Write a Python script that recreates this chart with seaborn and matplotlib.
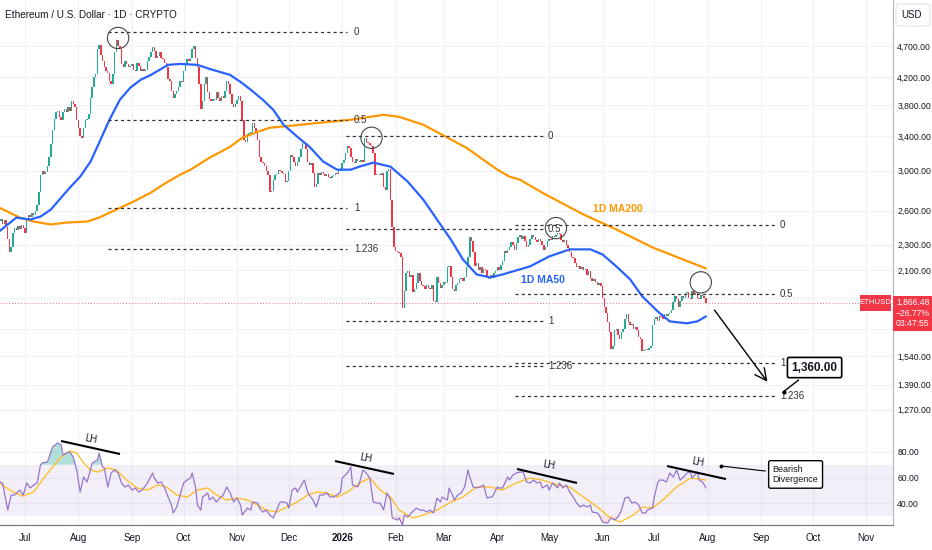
import numpy as np
import pandas as pd
import matplotlib
matplotlib.use("Agg")
import matplotlib.pyplot as plt
import matplotlib.ticker as mticker
from matplotlib.patches import Rectangle, FancyBboxPatch
import seaborn as sns

# ---------------- data ----------------
start_date = "2025-06-16"
open_first = 2480
close_2025_06 = [2500, 2520, 2480, 2510, 2450, 2350, 2240, 2280, 2400, 2445, 2420, 2460, 2430, 2470, 2440]
close_2025_07 = [2400, 2520, 2560, 2540, 2580, 2560, 2600, 2650, 2780, 2950, 3000, 2960, 2990, 3050, 3150, 3300,
                 3480, 3620, 3700, 3720, 3640, 3600, 3700, 3740, 3700, 3780, 3720, 3850, 3820, 3780, 3600]
close_2025_08 = [3500, 3400, 3380, 3500, 3600, 3620, 3680, 3900, 4050, 4200, 4250, 4650, 4720, 4550, 4450, 4350,
                 4300, 4260, 4150, 4100, 4250, 4600, 4800, 4700, 4650, 4400, 4350, 4450, 4400, 4350, 4380]
close_2025_09 = [4400, 4310, 4300, 4420, 4380, 4290, 4320, 4300, 4310, 4450, 4520, 4600, 4680, 4620, 4500, 4530,
                 4600, 4500, 4480, 4420, 4350, 4180, 4150, 4000, 3900, 3950, 4000, 4050, 4150, 4130]
close_2025_10 = [4300, 4400, 4480, 4450, 4500, 4650, 4700, 4500, 4350, 4100, 3750, 3850, 4100, 4200, 3980, 3880,
                 3850, 3880, 3870, 3980, 3900, 3850, 3930, 3900, 4000, 4150, 4100, 3950, 3820, 3780, 3820]
close_2025_11 = [3870, 3920, 3850, 3600, 3350, 3330, 3420, 3440, 3450, 3560, 3500, 3450, 3350, 3150, 3100, 3080,
                 3050, 3000, 2950, 2780, 2790, 2900, 2950, 2960, 3010, 3000, 2980, 2960, 2880, 2890]
close_2025_12 = [3000, 3180, 3150, 3100, 3050, 3100, 3150, 3250, 3320, 3300, 3250, 3100, 3060, 3080, 2980, 2830,
                 2860, 2980, 2950, 2990, 2960, 2940, 2960, 2930, 2920, 2940, 2950, 2980, 2970, 3010, 3000]
close_2026_01 = [3080, 3120, 3200, 3280, 3260, 3150, 3100, 3080, 3130, 3110, 3100, 3120, 3100, 3380, 3330, 3320,
                 3290, 3280, 3200, 2950, 2970, 2960, 2950, 2980, 2830, 2800, 3000, 3020, 2700, 2450, 2280]
close_2026_02 = [2250, 2240, 2230, 2200, 1830, 1950, 2080, 2090, 2050, 2060, 1940, 1960, 2000, 2080, 2020, 1990,
                 1980, 1960, 1990, 1970, 1960, 1990, 1880, 1870, 2050, 2000, 1970, 1990]
close_2026_03 = [2010, 2000, 2120, 2130, 2050, 1960, 1950, 1990, 2000, 2030, 2040, 2020, 2050, 2120, 2200, 2360,
                 2330, 2240, 2130, 2150, 2100, 2120, 2080, 2110, 2100, 2050, 2030, 2060, 2040, 2080, 2090]
close_2026_04 = [2120, 2100, 2140, 2170, 2250, 2230, 2260, 2280, 2320, 2300, 2260, 2310, 2360, 2380, 2350, 2370,
                 2330, 2280, 2300, 2350, 2380, 2360, 2340, 2320, 2350, 2330, 2300, 2260, 2280, 2330]
close_2026_05 = [2350, 2340, 2370, 2360, 2380, 2400, 2390, 2340, 2320, 2340, 2300, 2270, 2240, 2200, 2190, 2150,
                 2120, 2130, 2110, 2120, 2100, 2110, 2060, 2090, 2040, 2020, 2030, 2010, 1990, 2000, 1980]
close_2026_06 = [1900, 1840, 1800, 1740, 1680, 1580, 1600, 1690, 1700, 1660, 1640, 1680, 1700, 1760, 1790, 1740,
                 1720, 1730, 1700, 1710, 1690, 1650, 1640, 1570, 1575, 1580, 1575, 1585, 1600, 1720]
close_2026_07 = [1760, 1770, 1750, 1780, 1770, 1760, 1790, 1780, 1790, 1800, 1820, 1870, 1910, 1890, 1840, 1880,
                 1910, 1900, 1930, 1940, 1900, 1890, 1950, 1920, 1930, 1900, 1890, 1920, 1910, 1900, 1866.48]

# moving averages (day offset from start_date, price)
ma50_days = [0, 10, 18, 24, 30, 35, 41, 47, 53, 58, 64, 70, 76, 82, 88, 93, 98, 105, 115, 122, 134, 140, 146, 153,
             159, 165, 173, 180, 188, 196, 204, 209, 217, 227, 237, 246, 254, 262, 269, 277, 285, 292, 302, 308, 319,
             331, 343, 350, 358, 366, 373, 382, 389, 399, 405, 410]
ma50_vals = [2412, 2535, 2517, 2544, 2609, 2705, 2823, 2937, 3100, 3318, 3604, 3872, 4043, 4160, 4235, 4312, 4391,
             4406, 4391, 4328, 4235, 4130, 4014, 3872, 3736, 3540, 3390, 3271, 3100, 3012, 3012, 3045, 3089, 3045,
             2885, 2705, 2517, 2343, 2181, 2066, 2044, 2066, 2104, 2127, 2204, 2261, 2261, 2220, 2127, 2030, 1910,
             1809, 1745, 1733, 1745, 1777]
ma200_days = [0, 12, 20, 30, 39, 51, 58, 68, 78, 88, 97, 105, 111, 122, 134, 141, 150, 157, 169, 180, 192, 204, 223,
              232, 246, 257, 271, 289, 296, 302, 315, 339, 358, 379, 410]
ma200_vals = [2628, 2535, 2499, 2473, 2490, 2499, 2535, 2609, 2686, 2773, 2875, 2958, 3012, 3143, 3271, 3378, 3452,
              3502, 3527, 3552, 3578, 3604, 3669, 3643, 3540, 3415, 3259, 3012, 2937, 2906, 2773, 2563, 2429, 2277,
              2111]

# RSI(14) and its moving average
rsi_days = [0, 2, 5, 7, 9, 12, 14, 16, 18, 20, 22, 24, 25, 28, 30, 31, 34, 36, 37, 39, 41, 43, 45, 47, 49, 51, 53,
            54, 57, 58, 60, 61, 63, 65, 67, 69, 71, 73, 75, 77, 79, 81, 83, 86, 89, 90, 92, 94, 96, 98, 100, 101,
            103, 105, 107, 109, 111, 112, 114, 115, 117, 118, 121, 122, 124, 126, 128, 130, 132, 134, 136, 138, 140,
            141, 144, 146, 147, 150, 151, 153, 155, 157, 159, 161, 163, 165, 167, 168, 170, 172, 173, 176, 177, 179,
            180, 182, 184, 186, 188, 190, 192, 194, 196, 198, 199, 202, 204, 205, 208, 209, 211, 213, 215, 217, 219,
            221, 223, 225, 227, 228, 231, 232, 234, 235, 237, 239, 242, 244, 246, 248, 250, 252, 254, 256, 257, 260,
            261, 263, 264, 266, 268, 270, 272, 273, 275, 277, 279, 281, 283, 285, 286, 289, 290, 292, 295, 296, 298,
            300, 302, 304, 306, 308, 310, 312, 314, 315, 318, 319, 321, 324, 325, 327, 329, 331, 333, 335, 337, 339,
            341, 343, 344, 347, 348, 350, 353, 354, 355, 357, 359, 361, 363, 365, 367, 369, 371, 373, 375, 376, 379,
            380, 382, 383, 385, 387, 389, 391, 393, 395, 397, 399, 401, 402, 405, 406, 408, 410]
rsi_vals = [56.5, 55.7, 34.5, 46.3, 46.3, 50.2, 46.3, 55.7, 51.8, 54.1, 55.7, 69.8, 71.4, 72.2, 80.0, 83.9, 87.1,
            85.5, 77.6, 79.2, 80.0, 76.1, 65.9, 48.6, 60.4, 56.5, 65.9, 71.4, 73.7, 79.2, 68.2, 67.5, 52.6, 63.5,
            65.9, 63.5, 55.7, 52.6, 54.1, 50.2, 51.8, 48.6, 50.2, 55.7, 63.5, 59.6, 55.7, 56.5, 51.8, 44.7, 38.4,
            32.2, 36.9, 46.3, 55.7, 58.0, 59.6, 63.5, 51.8, 38.4, 34.5, 44.7, 47.9, 42.4, 44.7, 40.8, 43.9, 46.3,
            52.6, 47.9, 40.8, 43.9, 38.4, 30.6, 36.1, 34.5, 40.8, 40.0, 36.1, 33.0, 34.5, 30.6, 28.3, 34.5, 40.8,
            40.8, 40.0, 36.1, 50.2, 51.8, 48.6, 55.7, 58.0, 48.6, 46.3, 42.4, 36.9, 46.3, 46.3, 47.9, 44.7, 44.7,
            46.3, 48.6, 59.6, 63.5, 68.2, 54.1, 52.6, 55.7, 65.9, 63.5, 59.6, 40.8, 40.0, 40.0, 34.5, 47.9, 42.4,
            28.3, 26.7, 28.3, 22.8, 30.6, 29.0, 32.2, 36.1, 34.5, 34.5, 33.0, 34.5, 32.2, 43.9, 40.8, 44.7, 42.4,
            51.8, 46.3, 42.4, 46.3, 47.9, 52.6, 65.9, 60.4, 52.6, 51.8, 52.6, 54.1, 43.9, 44.7, 44.7, 52.6, 51.8,
            51.8, 60.4, 58.0, 62.0, 63.5, 64.3, 64.3, 56.5, 55.7, 58.0, 55.7, 56.5, 51.8, 54.1, 50.2, 55.7, 51.8,
            55.7, 51.8, 54.1, 48.6, 44.7, 40.0, 36.9, 38.4, 36.9, 38.4, 33.0, 32.2, 30.6, 25.1, 24.3, 26.7, 28.3,
            26.7, 29.0, 34.5, 43.9, 44.7, 40.0, 40.8, 38.4, 32.2, 32.2, 34.5, 36.1, 44.7, 55.7, 58.0, 58.0, 56.5,
            63.5, 60.4, 65.9, 58.0, 60.4, 63.5, 64.3, 59.6, 64.3, 58.0, 56.5, 51.8]
rsi_ma_days = [0, 8, 14, 20, 25, 31, 36, 41, 45, 49, 53, 57, 63, 68, 74, 80, 86, 92, 97, 103, 109, 115, 121, 126,
               132, 138, 144, 150, 155, 161, 167, 173, 179, 184, 190, 196, 202, 209, 215, 221, 227, 232, 240, 246,
               254, 262, 269, 277, 285, 292, 300, 308, 315, 324, 331, 339, 347, 354, 360, 368, 373, 379, 385, 393,
               401, 410]
rsi_ma_vals = [55.7, 48.6, 45.5, 48.6, 58.0, 68.2, 76.1, 80.8, 79.2, 71.4, 65.9, 64.3, 67.5, 65.9, 58.0, 51.8, 50.2,
               54.1, 52.6, 46.3, 44.7, 50.2, 51.8, 46.3, 42.4, 43.9, 42.4, 38.4, 34.5, 33.0, 36.9, 40.8, 46.3, 48.6,
               47.9, 44.7, 48.6, 55.7, 59.6, 50.2, 44.7, 34.5, 28.3, 30.6, 34.5, 40.8, 44.7, 52.6, 52.6, 50.2, 55.7,
               59.6, 58.0, 54.1, 52.6, 44.7, 36.9, 29.0, 25.1, 30.6, 36.9, 36.1, 42.4, 52.6, 59.6, 58.0]

# Fibonacci sets: levels, prices, start day, end day
fib_levels = ["0", "0.5", "1", "1.236"]
fib1_prices = [4942, 3604, 2628, 2261]
fib2_prices = [3400, 2433, 1745, 1487]
fib3_prices = [2464, 1926, 1503, 1335]
fib_spans = [(63, 202), (201, 317), (299, 451)]

price_ticks = [4700, 4200, 3800, 3400, 3000, 2600, 2300, 2100, 1900, 1700, 1540, 1390, 1270]
hidden_ticks = [1900, 1700]          # covered by the last-price tag in the reference
rsi_ticks = [80, 60, 40]
month_labels = ["Jul", "Aug", "Sep", "Oct", "Nov", "Dec", "2026", "Feb", "Mar", "Apr", "May", "Jun",
                "Jul", "Aug", "Sep", "Oct", "Nov"]
last_price = 1866.48

# ---------------- build frame ----------------
closes = (close_2025_06 + close_2025_07 + close_2025_08 + close_2025_09 + close_2025_10 + close_2025_11 +
          close_2025_12 + close_2026_01 + close_2026_02 + close_2026_03 + close_2026_04 + close_2026_05 +
          close_2026_06 + close_2026_07)
dates = pd.date_range(start_date, periods=len(closes), freq="D")
t0 = pd.Timestamp(start_date)
df = pd.DataFrame({"date": dates, "close": closes})
df["day"] = (df["date"] - t0).dt.days
df["open"] = df["close"].shift(1).fillna(open_first)
df["up"] = df["close"] >= df["open"]
month_days = [(d - t0).days for d in pd.date_range("2025-07-01", "2026-11-01", freq="MS")]

# ---------------- style ----------------
sns.set_theme(style="white")
plt.rcParams["font.family"] = ["Liberation Sans", "DejaVu Sans"]
TXT = "#131722"
GRID = "#eef1f7"
GREEN = "#22ab94"
RED = "#f23645"

W, H = 932, 550
fig = plt.figure(figsize=(W / 100, H / 100), dpi=100)
fig.patch.set_facecolor("white")


def fx(px):
    return px / W


def fy(py):
    return 1 - py / H


ax = fig.add_axes([0, fy(435), fx(893), 435 / H])
rax = fig.add_axes([0, fy(525), fx(893), 90 / H])
XMIN, XMAX = 0.5, 518.5

# ---------------- main pane ----------------
ax.set_yscale("log")
cols = np.where(df["up"], GREEN, RED)
ax.bar(df["day"], df["close"] - df["open"], bottom=df["open"], width=0.85, color=cols, linewidth=0, zorder=3)

sns.lineplot(x=ma200_days, y=ma200_vals, ax=ax, color="#ff9800", linewidth=1.6, zorder=4, estimator=None)
sns.lineplot(x=ma50_days, y=ma50_vals, ax=ax, color="#2962ff", linewidth=1.6, zorder=4, estimator=None)

ax.axhline(last_price, color=RED, lw=0.7, ls=(0, (1, 2)), alpha=0.7, zorder=2)

label_days = [205.8, 318.4, 453.0]
for prices, (d0, d1), lx in zip([fib1_prices, fib2_prices, fib3_prices], fib_spans, label_days):
    for lev, p in zip(fib_levels, prices):
        ax.hlines(p, d0, d1, colors="#333333", linewidth=0.9, linestyles=(0, (2.5, 2.5)), zorder=5)
        ax.text(lx, p, lev, fontsize=7, color="#333333", ha="left", va="center", zorder=6)

# circles around tops
ax.scatter([69, 216, 323, 407], [4837, 3378, 2441, 2008], s=235, facecolors="none",
           edgecolors="#444444", linewidths=0.8, zorder=7)

ax.text(359, 2615, "1D MA200", color="#ff9800", fontsize=7.5, ha="center", va="center", fontweight="bold")
ax.text(315.5, 2023, "1D MA50", color="#2962ff", fontsize=7.5, ha="center", va="center", fontweight="bold")

ax.annotate("", xy=(446.6, 1393), xytext=(414, 1832),
            arrowprops=dict(arrowstyle="->,head_length=0.7,head_width=0.35", color="black", lw=1.0), zorder=8)
ax.annotate("1,360.00", xy=(455, 1355), xytext=(473, 1478), fontsize=8.5, fontweight="bold", color=TXT,
            ha="center", va="center",
            bbox=dict(boxstyle="round,pad=0.35,rounding_size=0.15", fc="white", ec="black", lw=1.2),
            arrowprops=dict(arrowstyle="-", color="black", lw=1.0, shrinkB=0), zorder=9)
ax.plot([455], [1355], "o", ms=2, color="black", zorder=9)

ax.set_xlim(XMIN, XMAX)
ax.set_ylim(1159.6, 5545)
ax.yaxis.set_major_locator(mticker.FixedLocator(price_ticks))
ax.yaxis.set_minor_locator(mticker.NullLocator())
ax.yaxis.set_major_formatter(mticker.FuncFormatter(
    lambda v, p: "" if round(v) in hidden_ticks else f"{v:,.2f}"))
ax.yaxis.set_minor_formatter(mticker.NullFormatter())
ax.yaxis.tick_right()
ax.tick_params(axis="y", length=0, pad=3, labelsize=6.2, labelcolor=TXT)
ax.set_xticks(month_days)
ax.tick_params(axis="x", length=0, labelbottom=False)
ax.grid(True, color=GRID, lw=0.8)
ax.set_axisbelow(True)
ax.set_xlabel("")
ax.set_ylabel("")
for s in ["top", "left"]:
    ax.spines[s].set_visible(False)
ax.spines["right"].set_color("#b2b5be")
ax.spines["right"].set_linewidth(0.8)
ax.spines["bottom"].set_color("#e0e3eb")
ax.spines["bottom"].set_linewidth(0.8)

# ---------------- RSI pane ----------------
rax.axhspan(30, 70, color="#7e57c2", alpha=0.09, lw=0, zorder=1)
r_d = np.array(rsi_days, dtype=float)
r_v = np.array(rsi_vals, dtype=float)
rax.fill_between(r_d, 70, r_v, where=r_v > 70, interpolate=True, color="#26a69a", alpha=0.35, lw=0, zorder=2)
rax.fill_between(r_d, 30, r_v, where=r_v < 30, interpolate=True, color=RED, alpha=0.15, lw=0, zorder=2)
sns.lineplot(x=rsi_ma_days, y=rsi_ma_vals, ax=rax, color="#fbc02d", linewidth=1.0, zorder=3, estimator=None)
sns.lineplot(x=rsi_days, y=rsi_vals, ax=rax, color="#9575cd", linewidth=0.9, zorder=4, estimator=None)

lh_lines = [((35.9, 70.1), (88.6, 78.4), (53.3, 90.4)),
            ((194.8, 229.0), (72.9, 62.8), (212.8, 75.0)),
            ((300.4, 335.2), (66.7, 55.7), (319.0, 69.5)),
            ((387.4, 421.6), (69.0, 58.8), (405.4, 72.0))]
for xs, ys, (tx, ty) in lh_lines:
    rax.plot(xs, ys, color="black", lw=1.5, zorder=6, solid_capstyle="butt")
    rax.text(tx, ty, "LH", fontsize=7, color=TXT, ha="center", va="center", rotation=-10, zorder=6)

rax.annotate("Bearish\nDivergence", xy=(418.7, 69.0), xytext=(462, 62.4), fontsize=6.5, color=TXT,
             ha="center", va="center", multialignment="left",
             bbox=dict(boxstyle="round,pad=0.45,rounding_size=0.2", fc="white", ec="black", lw=1.0),
             arrowprops=dict(arrowstyle="-", color="black", lw=0.8, shrinkB=0), zorder=8)
rax.plot([418.7], [69.0], "o", ms=1.8, color="black", zorder=8)

rax.set_xlim(XMIN, XMAX)
rax.set_ylim(22.8, 93.3)
rax.set_yticks(rsi_ticks)
rax.yaxis.set_major_formatter(mticker.FuncFormatter(lambda v, p: f"{v:.2f}"))
rax.yaxis.tick_right()
rax.tick_params(axis="y", length=0, pad=3, labelsize=6.2, labelcolor=TXT)
rax.set_xticks(month_days)
rax.set_xticklabels(month_labels)
rax.tick_params(axis="x", length=0, pad=6, labelsize=7, labelcolor=TXT)
for lbl in rax.get_xticklabels():
    if lbl.get_text() == "2026":
        lbl.set_fontweight("bold")
rax.grid(True, color=GRID, lw=0.8)
rax.set_axisbelow(True)
rax.set_xlabel("")
rax.set_ylabel("")
for s in ["top", "left"]:
    rax.spines[s].set_visible(False)
rax.spines["right"].set_color("#b2b5be")
rax.spines["right"].set_linewidth(0.8)
rax.spines["bottom"].set_color("#787b86")
rax.spines["bottom"].set_linewidth(0.9)

# ---------------- header / price scale decorations ----------------
fig.text(fx(5), fy(15), "Ethereum / U.S. Dollar · 1D · CRYPTO", fontsize=7.2, color=TXT, ha="left", va="center")

fig.add_artist(FancyBboxPatch((fx(896), fy(26)), fx(932) - fx(896) - 0.002, 22 / H,
                              boxstyle="round,pad=0,rounding_size=0.004", transform=fig.transFigure,
                              fc="white", ec="#e0e3eb", lw=0.8, zorder=10))
fig.text(fx(901), fy(15), "USD", fontsize=7, color=TXT, ha="left", va="center", zorder=11)

fig.add_artist(Rectangle((fx(893), fy(331)), fx(932) - fx(893), 35 / H, transform=fig.transFigure,
                         fc=RED, ec="none", zorder=10))
for i, t in enumerate(["1,866.48", "\u221226.77%", "03:47:55"]):
    fig.text(fx(896), fy(302 + i * 11), t, fontsize=6.2, color="white", ha="left", va="center", zorder=11)
fig.add_artist(Rectangle((fx(860), fy(311)), fx(891) - fx(860), 16 / H, transform=fig.transFigure,
                         fc=RED, ec="none", zorder=10))
fig.text(fx(875.5), fy(303), "ETHUSD", fontsize=5.6, color="white", ha="center", va="center", zorder=11)

fig.savefig("out.png", dpi=100, facecolor="white")
